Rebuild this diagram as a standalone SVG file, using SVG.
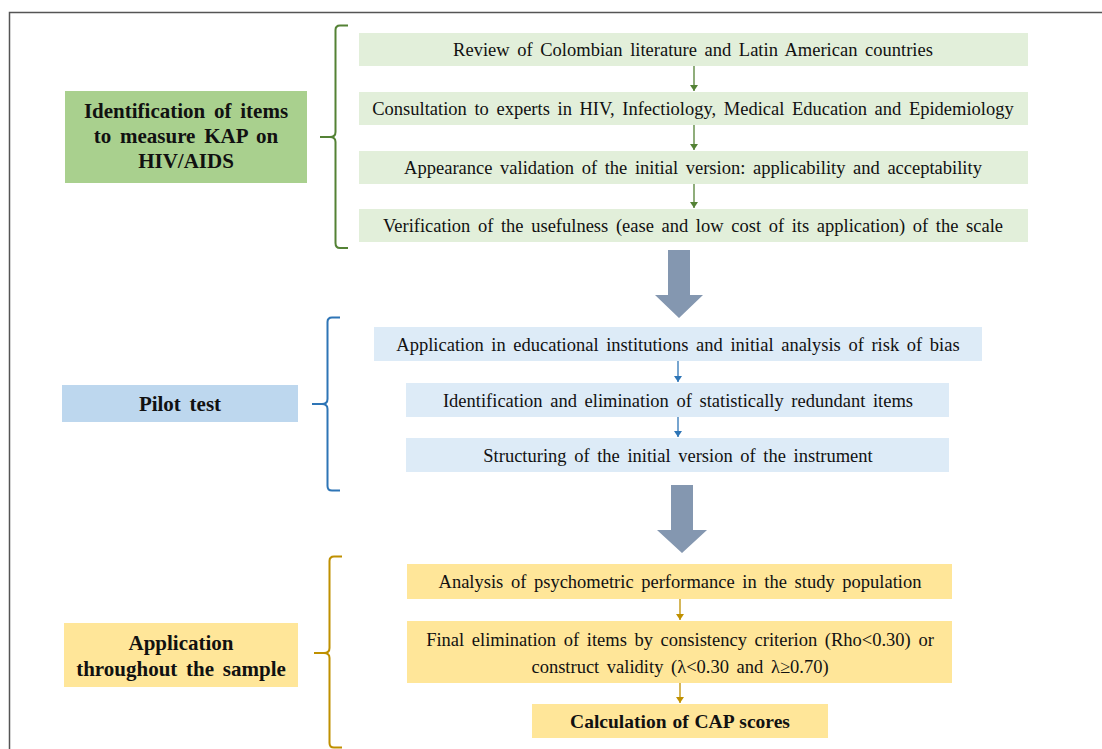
<svg xmlns="http://www.w3.org/2000/svg" width="1102" height="749" viewBox="0 0 1102 749">
<style>
.t{font-family:"Liberation Serif","Times New Roman",serif;font-size:18.5px;word-spacing:3px;fill:#111;text-anchor:middle}
.b{font-family:"Liberation Serif","Times New Roman",serif;font-size:21px;word-spacing:3.5px;font-weight:bold;fill:#111;text-anchor:middle}
.g{fill:#e2efda}.gl{fill:#a9d08e}
.bl{fill:#ddebf7}.bll{fill:#bdd7ee}
.y{fill:#ffe699}
.big{fill:#8497b0}
</style>
<defs>
<marker id="mg" markerWidth="8" markerHeight="8" refX="4" refY="6" markerUnits="userSpaceOnUse" viewBox="0 0 8 8"><path d="M0,0 L8,0 L4,6 Z" fill="#548235"/></marker>
<marker id="mb" markerWidth="8" markerHeight="8" refX="4" refY="6" markerUnits="userSpaceOnUse" viewBox="0 0 8 8"><path d="M0,0 L8,0 L4,6 Z" fill="#2e75b6"/></marker>
<marker id="my" markerWidth="8" markerHeight="8" refX="4" refY="6" markerUnits="userSpaceOnUse" viewBox="0 0 8 8"><path d="M0,0 L8,0 L4,6 Z" fill="#bf9000"/></marker>
</defs>
<rect width="1102" height="749" fill="#fff"/>
<path d="M9.5,749 V12.5 H1102" fill="none" stroke="#555" stroke-width="1.5"/>

<g id="n-ident"><rect class="gl" x="65" y="91" width="242" height="92"/>
<text class="b" x="186" y="118">Identification of items</text>
<text class="b" x="186" y="143">to measure KAP on</text>
<text class="b" x="186" y="168">HIV/AIDS</text></g>
<g id="n-g1"><rect class="g" x="359" y="33" width="669" height="33"/><text class="t" x="693" y="56">Review of Colombian literature and Latin American countries</text></g>
<g id="n-g2"><rect class="g" x="359" y="92" width="669" height="33"/><text class="t" x="693" y="115">Consultation to experts in HIV, Infectiology, Medical Education and Epidemiology</text></g>
<g id="n-g3"><rect class="g" x="359" y="151" width="669" height="33"/><text class="t" x="693" y="174">Appearance validation of the initial version: applicability and acceptability</text></g>
<g id="n-g4"><rect class="g" x="359" y="209" width="669" height="33"/><text class="t" x="693" y="232">Verification of the usefulness (ease and low cost of its application) of the scale</text></g>

<g id="n-pilot"><rect class="bll" x="62" y="385" width="236" height="37"/><text class="b" x="180" y="411">Pilot test</text></g>
<g id="n-b1"><rect class="bl" x="374" y="327" width="608" height="34"/><text class="t" x="678" y="351">Application in educational institutions and initial analysis of risk of bias</text></g>
<g id="n-b2"><rect class="bl" x="406" y="383" width="543" height="34"/><text class="t" x="678" y="407">Identification and elimination of statistically redundant items</text></g>
<g id="n-b3"><rect class="bl" x="406" y="438" width="543" height="34"/><text class="t" x="678" y="462">Structuring of the initial version of the instrument</text></g>

<g id="n-app"><rect class="y" x="64" y="623" width="234" height="64"/>
<text class="b" x="181" y="650">Application</text>
<text class="b" x="181" y="676">throughout the sample</text></g>
<g id="n-y1"><rect class="y" x="407" y="564" width="545" height="35"/><text class="t" x="680" y="588">Analysis of psychometric performance in the study population</text></g>
<g id="n-y2"><rect class="y" x="407" y="621" width="545" height="62"/>
<text class="t" x="680" y="646">Final elimination of items by consistency criterion (Rho&lt;0.30) or</text>
<text class="t" x="680" y="673">construct validity (λ&lt;0.30 and λ≥0.70)</text></g>
<g id="n-y3"><rect class="y" x="532" y="704" width="296" height="34"/><text class="b" x="680" y="728" style="font-size:19.5px;word-spacing:1px">Calculation of CAP scores</text></g>

<g id="connectors">
<path d="M348,25.5 H340 Q335.5,25.5 335.5,30 V132 Q335.5,137 330,137 H320 M330,137 Q335.5,137 335.5,142 V243 Q335.5,248 340,248 H348" fill="none" stroke="#548235" stroke-width="2"/>
<path d="M340,317.5 H332 Q327.5,317.5 327.5,322 V399 Q327.5,404 322,404 H312 M322,404 Q327.5,404 327.5,409 V486 Q327.5,490.5 332,490.5 H340" fill="none" stroke="#2e75b6" stroke-width="2"/>
<path d="M342,556.5 H334 Q329.5,556.5 329.5,561 V648 Q329.5,653 324,653 H314 M324,653 Q329.5,653 329.5,658 V743 Q329.5,747.5 334,747.5 H342" fill="none" stroke="#bf9000" stroke-width="2"/>
<g stroke="#548235" stroke-width="1.3">
<line x1="694" y1="66" x2="694" y2="91" marker-end="url(#mg)"/>
<line x1="694" y1="125" x2="694" y2="150" marker-end="url(#mg)"/>
<line x1="694" y1="184" x2="694" y2="208" marker-end="url(#mg)"/>
</g>
<g stroke="#2e75b6" stroke-width="1.3">
<line x1="678" y1="361" x2="678" y2="382" marker-end="url(#mb)"/>
<line x1="678" y1="417" x2="678" y2="437" marker-end="url(#mb)"/>
</g>
<g stroke="#bf9000" stroke-width="1.3">
<line x1="680" y1="599" x2="680" y2="620" marker-end="url(#my)"/>
<line x1="680" y1="683" x2="680" y2="703" marker-end="url(#my)"/>
</g>
<path class="big" d="M668,250 H690 V295 H703 L679,318 L655,295 H668 Z"/>
<path class="big" d="M671,485 H693 V530 H707 L682,553 L657,530 H671 Z"/>
</g>
</svg>
